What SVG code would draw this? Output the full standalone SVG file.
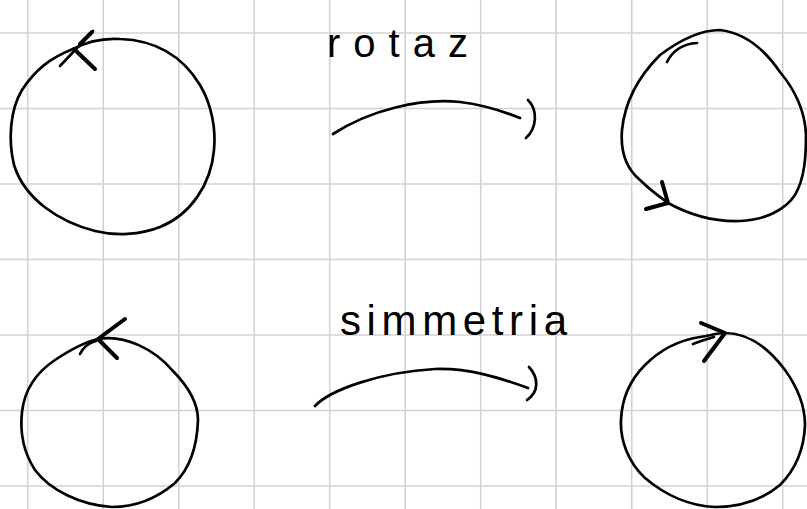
<svg xmlns="http://www.w3.org/2000/svg" width="807" height="509" viewBox="0 0 807 509">
<style>
.grid line{stroke:#d2d2d2;stroke-width:1.6}
.ink{fill:none;stroke:#000;stroke-width:2.7;stroke-linecap:round;stroke-linejoin:round}
.head{fill:none;stroke:#000;stroke-width:4;stroke-linecap:round}
.hand{font-family:"Liberation Sans","DejaVu Sans",sans-serif;fill:#000}
</style>
<rect width="807" height="509" fill="#fff"/>
<g class="grid">
<line x1="27.7" y1="0" x2="27.7" y2="509"/><line x1="103.2" y1="0" x2="103.2" y2="509"/><line x1="178.7" y1="0" x2="178.7" y2="509"/><line x1="254.2" y1="0" x2="254.2" y2="509"/><line x1="329.7" y1="0" x2="329.7" y2="509"/><line x1="405.2" y1="0" x2="405.2" y2="509"/><line x1="480.7" y1="0" x2="480.7" y2="509"/><line x1="556.2" y1="0" x2="556.2" y2="509"/><line x1="631.7" y1="0" x2="631.7" y2="509"/><line x1="707.2" y1="0" x2="707.2" y2="509"/><line x1="782.7" y1="0" x2="782.7" y2="509"/>
<line x1="0" y1="33" x2="807" y2="33"/><line x1="0" y1="108.5" x2="807" y2="108.5"/><line x1="0" y1="184" x2="807" y2="184"/><line x1="0" y1="259.5" x2="807" y2="259.5"/><line x1="0" y1="335" x2="807" y2="335"/><line x1="0" y1="410.5" x2="807" y2="410.5"/><line x1="0" y1="486" x2="807" y2="486"/>
</g>
<g id="circle-rot-before">
<path class="ink" d="M73,49 C90,40 105,38 120,39 C150,40 180,52 200,85 C212,105 216,130 214,150 C211,185 190,215 160,227 C140,235 115,236 95,231 C60,222 25,200 14,165 C8,140 10,110 22,90 C35,70 50,58 73,49"/>
<path class="ink" d="M93,31 L60,66"/>
<path class="head" d="M92,32 L80,44 M74,49 L95,69"/>
</g>
<g id="circle-rot-after">
<path class="ink" d="M667,62 C672,52 680,44 697,43"/>
<path class="ink" d="M668,203 C690,215 715,222 740,221 C765,220 785,210 795,195 C805,178 806,155 806,135 C805,110 795,90 780,72 C765,50 745,33 720,30 C700,30 680,40 660,55 C640,75 625,100 622,130 C620,155 628,170 640,180 C650,190 660,197 668,203"/>
<path class="head" d="M668,203 L662,182 M668,203 L646,209"/>
</g>
<g id="circle-sym-before">
<path class="ink" d="M80,354 C83,348 88,343 96,341"/>
<path class="ink" d="M98,339 C125,334 155,350 172,370 C190,388 198,405 198,420 C197,450 188,470 175,483 C155,500 135,507 112,507 C80,505 50,490 35,470 C22,450 20,430 22,412 C25,385 40,370 55,360 C70,350 85,342 98,339"/>
<path class="head" d="M98,339 L125,319 M98,339 L117,358"/>
</g>
<g id="circle-sym-after">
<path class="ink" d="M693,344 C700,341 707,339 714,337"/>
<path class="ink" d="M725,333 C750,333 770,350 785,370 C798,388 805,405 805,425 C804,450 795,470 780,485 C762,500 740,507 715,507 C690,506 665,495 645,478 C628,462 620,440 621,420 C622,395 632,378 645,365 C660,350 680,340 700,337 C712,335 718,333 725,333"/>
<path class="head" d="M725,333 L701,323 M725,333 L704,361"/>
</g>
<g id="label-rotaz"><text class="hand" x="327" y="57" font-size="40" textLength="141" lengthAdjust="spacing">rotaz</text></g>
<g id="label-simmetria"><text class="hand" x="340" y="335" font-size="42" textLength="227" lengthAdjust="spacing">simmetria</text></g>
<g id="connectors">
<path class="ink" d="M333,134 C370,110 420,98 460,102 C485,105 505,112 520,118"/>
<path class="ink" d="M528,100 C538,110 537,128 526,138"/>
<path class="ink" d="M315,406 C330,390 380,372 435,369 C470,368 500,378 528,388"/>
<path class="ink" d="M529,367 C539,378 539,392 527,400"/>
</g>
</svg>
